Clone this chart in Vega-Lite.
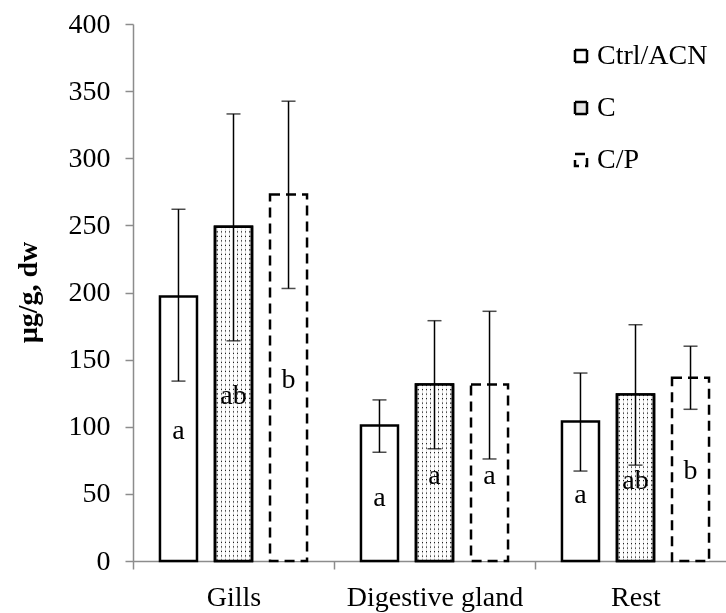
{
  "$schema": "https://vega.github.io/schema/vega-lite/v6.json",
  "width": 593,
  "height": 537,
  "autosize": {"type": "none"},
  "padding": {"left": 133, "top": 24, "right": 0, "bottom": 52},
  "background": "white",
  "config": {
    "view": {"stroke": null},
    "font": "Liberation Serif, Times New Roman, serif",
    "axis": {"labelFont": "Liberation Serif, Times New Roman, serif", "titleFont": "Liberation Serif, Times New Roman, serif", "labelColor": "black", "titleColor": "black"},
    "legend": {"labelFont": "Liberation Serif, Times New Roman, serif"},
    "text": {"font": "Liberation Serif, Times New Roman, serif"}
  },
  "data": {
    "values": [
      {"tissue": "Gills", "series": "Ctrl/ACN", "mean": 197, "lo": 134, "hi": 262, "letter": "a", "label_y": 97},
      {"tissue": "Gills", "series": "C", "mean": 249, "lo": 164, "hi": 333, "letter": "ab", "label_y": 123},
      {"tissue": "Gills", "series": "C/P", "mean": 273, "lo": 203, "hi": 342.5, "letter": "b", "label_y": 135},
      {"tissue": "Digestive gland", "series": "Ctrl/ACN", "mean": 101, "lo": 81, "hi": 120, "letter": "a", "label_y": 47},
      {"tissue": "Digestive gland", "series": "C", "mean": 131.5, "lo": 83.6, "hi": 179, "letter": "a", "label_y": 63},
      {"tissue": "Digestive gland", "series": "C/P", "mean": 131.5, "lo": 76, "hi": 186, "letter": "a", "label_y": 63},
      {"tissue": "Rest", "series": "Ctrl/ACN", "mean": 104, "lo": 67, "hi": 140, "letter": "a", "label_y": 49.5},
      {"tissue": "Rest", "series": "C", "mean": 124, "lo": 71.4, "hi": 176, "letter": "ab", "label_y": 59.5},
      {"tissue": "Rest", "series": "C/P", "mean": 136.5, "lo": 113, "hi": 160, "letter": "b", "label_y": 67}
    ]
  },
  "encoding": {
    "x": {
      "field": "tissue",
      "type": "nominal",
      "sort": ["Gills", "Digestive gland", "Rest"],
      "scale": {"range": [0, 603], "paddingInner": 0, "paddingOuter": 0},
      "axis": {
        "title": null,
        "labelAngle": 0,
        "labelFont": "Liberation Serif, Times New Roman, serif",
        "labelFontSize": 28,
        "labelPadding": 14,
        "domainColor": "#8c8c8c",
        "domainWidth": 1.5,
        "tickColor": "#8c8c8c",
        "tickSize": 8,
        "tickWidth": 1.5,
        "tickBand": "extent"
      }
    },
    "xOffset": {
      "field": "series",
      "type": "nominal",
      "sort": ["Ctrl/ACN", "C", "C/P"],
      "scale": {"paddingInner": 0.327, "paddingOuter": 0.49}
    }
  },
  "layer": [
    {
      "mark": {"type": "bar", "strokeWidth": 2.5},
      "encoding": {
        "y": {
          "field": "mean",
          "type": "quantitative",
          "scale": {"domain": [0, 400], "nice": false},
          "axis": {
            "values": [0, 50, 100, 150, 200, 250, 300, 350, 400],
            "grid": false,
            "title": "µg/g, dw",
            "titleFont": "Liberation Serif, Times New Roman, serif",
            "titleFontSize": 28,
            "titleFontWeight": "bold",
            "titleAngle": -90,
            "titleX": -105,
            "titleY": 268,
            "titleAlign": "center",
            "titleBaseline": "middle",
            "labelFont": "Liberation Serif, Times New Roman, serif",
            "labelFontSize": 28,
            "labelPadding": 15,
            "domainColor": "#8c8c8c",
            "domainWidth": 1.5,
            "tickColor": "#8c8c8c",
            "tickSize": 8,
            "tickWidth": 1.5
          }
        },
        "fill": {
          "field": "series",
          "type": "nominal",
          "scale": {"domain": ["Ctrl/ACN", "C", "C/P"], "range": ["white", "#e4e4e4", "white"]},
          "legend": {
            "title": null,
            "orient": "none",
            "legendX": 434,
            "legendY": 18,
            "padding": 0,
            "symbolType": "square",
            "symbolSize": 144,
            "symbolStrokeWidth": 2.5,
            "labelFontSize": 28,
            "labelFont": "Liberation Serif, Times New Roman, serif",
            "labelColor": "black",
            "labelOffset": 2,
            "rowPadding": 24
          }
        },
        "stroke": {
          "field": "series",
          "type": "nominal",
          "scale": {"domain": ["Ctrl/ACN", "C", "C/P"], "range": ["black", "black", "black"]},
          "legend": {
            "title": null,
            "orient": "none",
            "legendX": 434,
            "legendY": 18,
            "padding": 0,
            "symbolType": "square",
            "symbolSize": 144,
            "symbolStrokeWidth": 2.5,
            "labelFontSize": 28,
            "labelFont": "Liberation Serif, Times New Roman, serif",
            "labelColor": "black",
            "labelOffset": 2,
            "rowPadding": 24
          }
        },
        "strokeDash": {
          "field": "series",
          "type": "nominal",
          "scale": {"domain": ["Ctrl/ACN", "C", "C/P"], "range": [[1, 0], [1, 0], [10, 6]]},
          "legend": {
            "title": null,
            "orient": "none",
            "legendX": 434,
            "legendY": 18,
            "padding": 0,
            "symbolType": "square",
            "symbolSize": 144,
            "symbolStrokeWidth": 2.5,
            "labelFontSize": 28,
            "labelFont": "Liberation Serif, Times New Roman, serif",
            "labelColor": "black",
            "labelOffset": 2,
            "rowPadding": 24
          }
        }
      }
    },
    {
      "transform": [{"filter": "datum.series === 'C'"}],
      "mark": {"type": "rule", "color": "#222222", "strokeWidth": 34, "strokeDash": [1.3, 3.2]},
      "encoding": {
        "y": {"field": "mean", "type": "quantitative"},
        "y2": {"datum": 0}
      }
    },
    {
      "transform": [{"filter": "datum.series === 'C'"}],
      "mark": {
        "type": "bar",
        "strokeWidth": 0,
        "blend": "lighten",
        "fill": {
          "gradient": "linear",
          "x1": 0, "x2": 1, "y1": 0, "y2": 0,
          "stops": [
            {"offset": 0, "color": "white"},
            {"offset": 0.04, "color": "white"}, {"offset": 0.04, "color": "black"}, {"offset": 0.072, "color": "black"}, {"offset": 0.072, "color": "white"},
            {"offset": 0.151, "color": "white"}, {"offset": 0.151, "color": "black"}, {"offset": 0.183, "color": "black"}, {"offset": 0.183, "color": "white"},
            {"offset": 0.262, "color": "white"}, {"offset": 0.262, "color": "black"}, {"offset": 0.294, "color": "black"}, {"offset": 0.294, "color": "white"},
            {"offset": 0.373, "color": "white"}, {"offset": 0.373, "color": "black"}, {"offset": 0.405, "color": "black"}, {"offset": 0.405, "color": "white"},
            {"offset": 0.484, "color": "white"}, {"offset": 0.484, "color": "black"}, {"offset": 0.516, "color": "black"}, {"offset": 0.516, "color": "white"},
            {"offset": 0.595, "color": "white"}, {"offset": 0.595, "color": "black"}, {"offset": 0.627, "color": "black"}, {"offset": 0.627, "color": "white"},
            {"offset": 0.706, "color": "white"}, {"offset": 0.706, "color": "black"}, {"offset": 0.738, "color": "black"}, {"offset": 0.738, "color": "white"},
            {"offset": 0.817, "color": "white"}, {"offset": 0.817, "color": "black"}, {"offset": 0.849, "color": "black"}, {"offset": 0.849, "color": "white"},
            {"offset": 0.928, "color": "white"}, {"offset": 0.928, "color": "black"}, {"offset": 0.96, "color": "black"}, {"offset": 0.96, "color": "white"},
            {"offset": 1, "color": "white"}
          ]
        }
      },
      "encoding": {
        "y": {"field": "mean", "type": "quantitative"}
      }
    },
    {
      "transform": [{"filter": "datum.series === 'C'"}],
      "mark": {"type": "bar", "fill": "transparent", "stroke": "black", "strokeWidth": 2.5},
      "encoding": {
        "y": {"field": "mean", "type": "quantitative"}
      }
    },
    {
      "mark": {"type": "rule", "color": "black", "strokeWidth": 1.5},
      "encoding": {
        "y": {"field": "lo", "type": "quantitative"},
        "y2": {"field": "hi"}
      }
    },
    {
      "mark": {"type": "tick", "color": "black", "thickness": 1.5, "size": 14},
      "encoding": {"y": {"field": "lo", "type": "quantitative"}}
    },
    {
      "mark": {"type": "tick", "color": "black", "thickness": 1.5, "size": 14},
      "encoding": {"y": {"field": "hi", "type": "quantitative"}}
    },
    {
      "mark": {"type": "text", "font": "Liberation Serif, Times New Roman, serif", "fontSize": 28, "color": "black", "baseline": "middle", "align": "center"},
      "encoding": {
        "y": {"field": "label_y", "type": "quantitative"},
        "text": {"field": "letter"}
      }
    }
  ]
}
